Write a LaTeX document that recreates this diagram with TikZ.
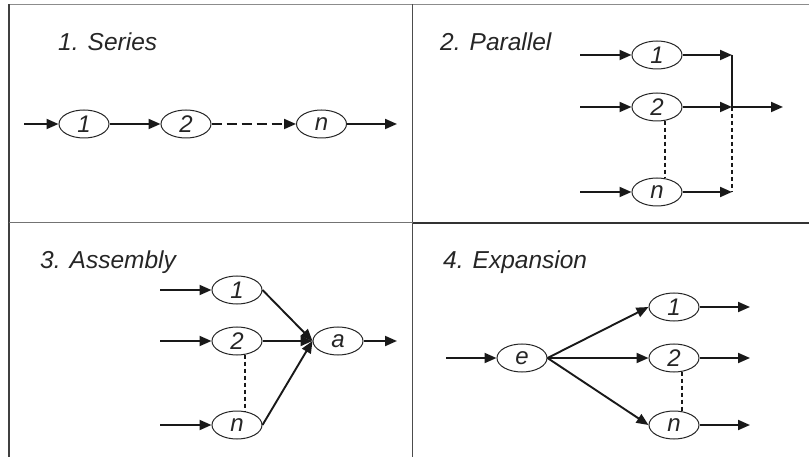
\documentclass[tikz,border=0pt]{standalone}
\usepackage{fontspec}
\setmainfont{Liberation Sans}
\usetikzlibrary{arrows.meta,shapes.geometric}
\begin{document}
\begin{tikzpicture}[x=1pt,y=-1pt,
  stage/.style={draw=black!85, line width=1pt, ellipse, minimum width=50pt,
    minimum height=28pt, inner sep=0pt, text=black!85,
    font=\fontsize{24}{24}\selectfont\itshape},
  title/.style={anchor=west, inner sep=0pt, text=black!85,
    font=\fontsize{24.5}{28}\selectfont\itshape},
  flow/.style={line width=1.9pt, draw=black!90,
    -{Triangle[length=12pt,width=10pt]}},
  hdash/.style={dash pattern=on 10pt off 5pt},
  vdash/.style={line width=1.6pt, draw=black!90, dash pattern=on 4pt off 3pt},
  rule/.style={line width=1.2pt, draw=black!70}]
\useasboundingbox (0,0) rectangle (809,457);

% table rules
\draw[line width=1.5pt, draw=black!45] (9,4.5) -- (809,4.5);
\draw[line width=1.5pt, draw=black!75] (9,4.5) -- (9,457);
\draw[rule] (412.7,4.5) -- (412.7,457);
\draw[line width=1.1pt, draw=black!55] (9,222.6) -- (412.7,222.6);
\draw[line width=2pt, draw=black!80] (412.7,223.4) -- (809,223.4);

% 1. Series
\node[title] (t1) at (58,42) {1. Series};
\node[stage] (s1) at (84,124) {1};
\node[stage] (s2) at (186,124) {2};
\node[stage] (sn) at (321.5,124) {n};
\coordinate (sin) at (24,124);
\coordinate (sout) at (397,124);
\draw[flow] (sin) -- (s1);
\draw[flow] (s1) -- (s2);
\draw[flow,hdash] (s2) -- (sn);
\draw[flow] (sn) -- (sout);

% 2. Parallel
\node[title] (t2) at (440,42) {2. Parallel};
\node[stage] (p1) at (657,55) {1};
\node[stage] (p2) at (657,107) {2};
\node[stage] (pn) at (657,192) {n};
\coordinate (pin1) at (580,55);
\coordinate (pin2) at (580,107);
\coordinate (pinn) at (580,192);
\coordinate (j1) at (732,55);
\coordinate (j2) at (732,107);
\coordinate (jn) at (732,192);
\coordinate (pout) at (783,107);
\draw[flow] (pin1) -- (p1);
\draw[flow] (pin2) -- (p2);
\draw[flow] (pinn) -- (pn);
\draw[flow] (p1) -- (j1);
\draw[flow] (p2) -- (j2);
\draw[flow] (pn) -- (jn);
\draw[line width=1.1pt, draw=black!90] (j1) -- (j2);
\draw[vdash] (j2) -- (jn);
\draw[flow] (j2) -- (pout);
\draw[vdash] (p2.-59) -- (pn.59);

% 3. Assembly
\node[title] (t3) at (40,262) {3. Assembly};
\node[stage] (a1) at (237,290) {1};
\node[stage] (a2) at (237,341) {2};
\node[stage] (an) at (237,425) {n};
\node[stage] (aa) at (338,341) {a};
\coordinate (ain1) at (160,290);
\coordinate (ain2) at (160,341);
\coordinate (ainn) at (160,425);
\coordinate (aout) at (397,341);
\draw[flow] (ain1) -- (a1);
\draw[flow] (ain2) -- (a2);
\draw[flow] (ainn) -- (an);
\draw[flow] (a1.east) -- (aa.west);
\draw[flow] (a2.east) -- (aa.west);
\draw[flow] (an.east) -- (aa.west);
\draw[flow] (aa) -- (aout);
\draw[vdash] (a2.-59) -- (an.59);

% 4. Expansion
\node[title] (t4) at (443,262) {4. Expansion};
\node[stage] (e) at (522,358) {e};
\node[stage] (e1) at (674,307) {1};
\node[stage] (e2) at (674,358) {2};
\node[stage] (en) at (674,425) {n};
\coordinate (ein) at (446,358);
\coordinate (eout1) at (750,307);
\coordinate (eout2) at (750,358);
\coordinate (eoutn) at (750,425);
\draw[flow] (ein) -- (e);
\draw[flow] (e.east) -- (e1.west);
\draw[flow] (e.east) -- (e2.west);
\draw[flow] (e.east) -- (en.west);
\draw[flow] (e1) -- (eout1);
\draw[flow] (e2) -- (eout2);
\draw[flow] (en) -- (eoutn);
\draw[vdash] (e2.-59) -- (en.59);
\end{tikzpicture}
\end{document}
